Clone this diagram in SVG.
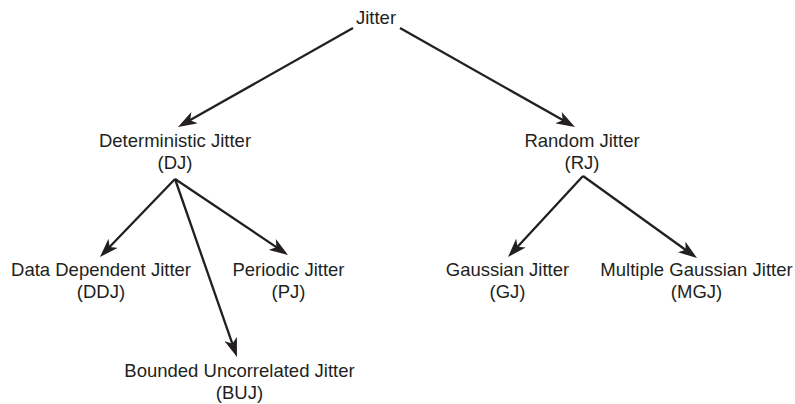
<svg xmlns="http://www.w3.org/2000/svg" width="795" height="404" viewBox="0 0 795 404">
<style>
text{font-family:"Liberation Sans",Arial,sans-serif;font-size:18.5px;fill:#231f20;text-anchor:middle}
.c line{stroke:#231f20;stroke-width:2.3;marker-end:url(#ah)}
</style>
<defs>
<marker id="ah" viewBox="0 0 19 13" refX="9" refY="6.5" markerWidth="19" markerHeight="13" markerUnits="userSpaceOnUse" orient="auto">
<path d="M0,0 L19,6.5 L0,13 L5,6.5 z" fill="#231f20"/>
</marker>
</defs>
<rect width="795" height="404" fill="#fff"/>
<g id="jitter"><text x="376" y="24">Jitter</text></g>
<g id="dj"><text x="175" y="147">Deterministic Jitter</text><text x="175" y="169">(DJ)</text></g>
<g id="rj"><text x="582" y="147">Random Jitter</text><text x="582" y="169">(RJ)</text></g>
<g id="ddj"><text x="101" y="276">Data Dependent Jitter</text><text x="101" y="298">(DDJ)</text></g>
<g id="pj"><text x="288.5" y="276">Periodic Jitter</text><text x="288.5" y="298">(PJ)</text></g>
<g id="buj"><text x="239.5" y="377">Bounded Uncorrelated Jitter</text><text x="239.5" y="399">(BUJ)</text></g>
<g id="gj"><text x="507.5" y="276">Gaussian Jitter</text><text x="507.5" y="298">(GJ)</text></g>
<g id="mgj"><text x="696.5" y="276">Multiple Gaussian Jitter</text><text x="696.5" y="298">(MGJ)</text></g>
<g id="connectors" class="c">
<line x1="353" y1="28" x2="186.7" y2="122.1"/>
<line x1="400" y1="28" x2="566.3" y2="122.1"/>
<line x1="175" y1="179" x2="106.9" y2="249.8"/>
<line x1="175" y1="179" x2="233.7" y2="347.6"/>
<line x1="175" y1="179" x2="279.7" y2="249.4"/>
<line x1="583" y1="176" x2="514.8" y2="249.7"/>
<line x1="583" y1="176" x2="688.9" y2="252.2"/>
</g>
</svg>
